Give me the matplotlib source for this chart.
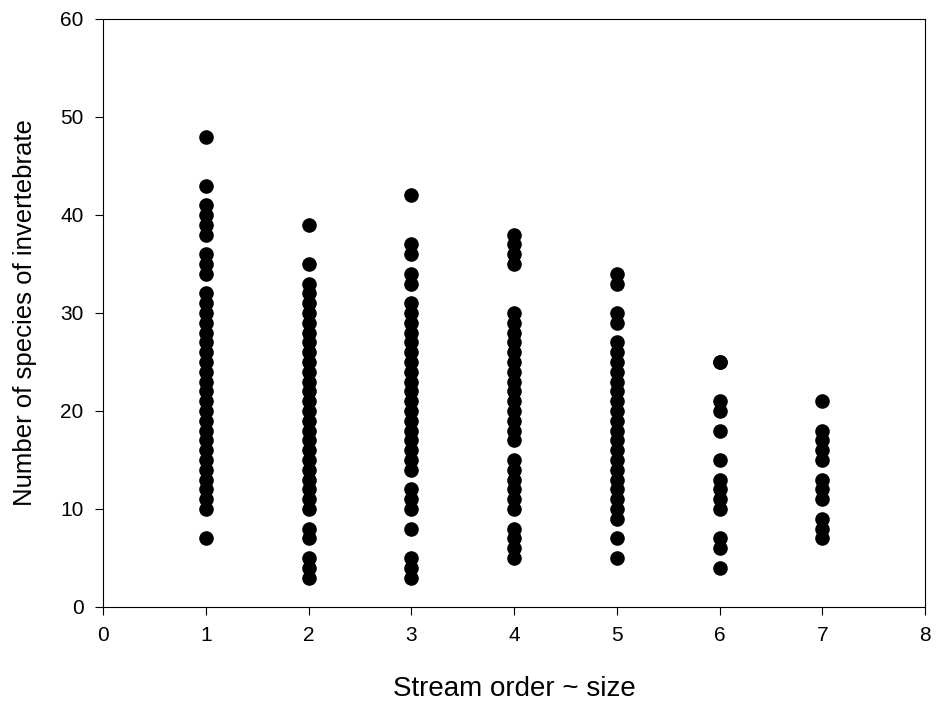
import numpy as np
import matplotlib
matplotlib.use("Agg")
import matplotlib.pyplot as plt

# species counts
order1 = [48, 43, 41, 40, 39, 38, 36, 35, 34] + list(range(32, 9, -1)) + [7]
order2 = [39, 35] + list(range(33, 9, -1)) + [8, 7, 5, 4, 3]
order3 = [42, 37, 36, 34, 33] + list(range(31, 13, -1)) + [12, 11, 10, 8, 5, 4, 3]
order4 = [38, 37, 36, 35] + list(range(30, 16, -1)) + [15, 14, 13, 12, 11, 10, 8, 7, 6, 5]
order5 = [34, 33, 30, 29] + list(range(27, 8, -1)) + [7, 5]
order6 = [25, 25, 21, 20, 18, 15, 13, 12, 11, 10, 7, 6, 4]
order7 = [21, 18, 17, 16, 15, 13, 12, 11, 9, 8, 7]

columns = [order1, order2, order3, order4, order5, order6, order7]
stream_order = [1, 2, 3, 4, 5, 6, 7]

plt.rcParams['font.family'] = ['Liberation Sans', 'DejaVu Sans']

fig = plt.figure(figsize=(9.36, 7.04), dpi=100)
ax = fig.add_axes([103 / 936, 1 - 607 / 704, 822 / 936, 588 / 704])

for x, vals in zip(stream_order, columns):
    ax.plot([x] * len(vals), vals, 'o', color='black', markersize=10.5, markeredgewidth=0)

ax.set_xlim(0, 8)
ax.set_ylim(0, 60)
ax.set_xticks(range(0, 9))
ax.set_yticks(range(0, 61, 10))
ax.tick_params(direction='out', length=6, width=0.8, labelsize=15, pad=8)
for s in ax.spines.values():
    s.set_linewidth(0.8)

ax.set_xlabel('Stream order ~ size', fontsize=20, labelpad=22)
ax.set_ylabel('Number of species of invertebrate', fontsize=18.5, labelpad=17)

fig.savefig('out.png', dpi=100)
